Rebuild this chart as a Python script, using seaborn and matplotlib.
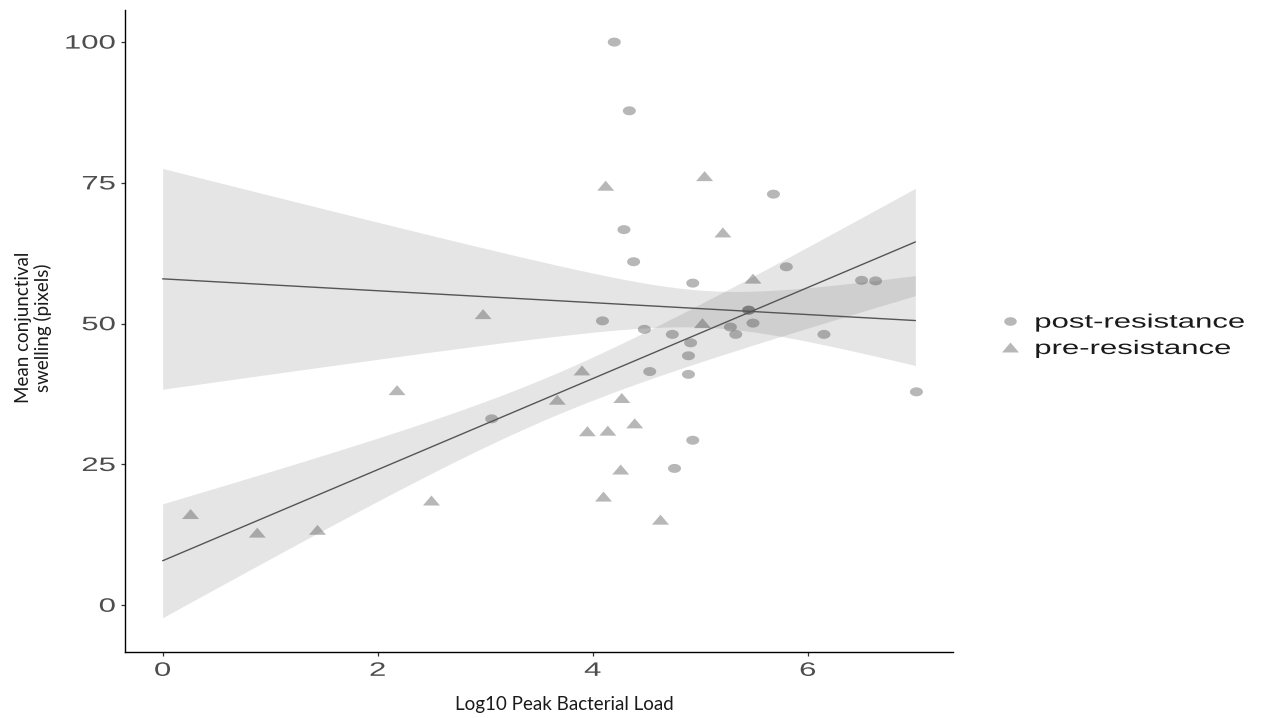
import math
import numpy as np
import pandas as pd
import matplotlib
matplotlib.use("Agg")
import matplotlib.pyplot as plt
import seaborn as sns
from matplotlib.path import Path
from matplotlib.lines import Line2D
from matplotlib.font_manager import FontProperties
from matplotlib.patheffects import AbstractPathEffect
from matplotlib.transforms import Affine2D

# Log10 peak bacterial load and mean conjunctival swelling per animal
post_load = [4.20, 4.34, 5.68, 4.29, 4.38, 5.80, 4.93, 5.45, 5.45, 4.09, 5.49, 5.28, 5.33,
             4.48, 4.74, 6.15, 4.91, 4.89, 4.53, 4.89, 3.06, 4.93, 4.76, 6.50, 6.63, 7.01]
post_swelling = [100.0, 87.8, 73.0, 66.7, 61.0, 60.1, 57.2, 52.4, 52.4, 50.5, 50.1, 49.4, 48.1,
                 49.0, 48.1, 48.1, 46.6, 44.3, 41.5, 41.0, 33.1, 29.3, 24.3, 57.7, 57.6, 37.9]
pre_load = [4.12, 5.04, 5.21, 5.49, 2.98, 5.02, 3.90, 2.18, 3.67, 4.27, 4.39, 3.95, 4.14,
            4.26, 2.50, 4.10, 4.63, 0.26, 0.88, 1.44]
pre_swelling = [74.5, 76.2, 66.2, 58.0, 51.7, 50.1, 41.7, 38.2, 36.5, 36.8, 32.3, 30.9, 31.0,
                24.1, 18.6, 19.3, 15.2, 16.2, 12.9, 13.4]
groups = ["post-resistance", "pre-resistance"]
x_ticks = [0, 2, 4, 6]
y_ticks = [0, 25, 50, 75, 100]

df = pd.DataFrame({
    "load": post_load + pre_load,
    "swelling": post_swelling + pre_swelling,
    "group": [groups[0]] * len(post_load) + [groups[1]] * len(pre_load),
})


class HorizontalStretch(AbstractPathEffect):
    """Draws text glyphs widened horizontally about a fixed anchor."""

    def __init__(self, factor, anchor="center"):
        super().__init__()
        self.factor = factor
        self.anchor = anchor

    def draw_path(self, renderer, gc, tpath, affine, rgbFace=None):
        ext = tpath.get_extents()
        ref = {"left": ext.x0, "center": 0.5 * (ext.x0 + ext.x1), "right": ext.x1}[self.anchor]
        widen = Affine2D().translate(-ref, 0).scale(self.factor, 1).translate(ref, 0)
        renderer.draw_path(gc, tpath, widen + affine, rgbFace)


def se_band(x, y, grid, n_se=1.0):
    """Least-squares fit with a band of +/- n_se standard errors of the mean response."""
    x = np.asarray(x, float)
    y = np.asarray(y, float)
    n = len(x)
    slope, intercept = np.polyfit(x, y, 1)
    resid = y - (intercept + slope * x)
    s = math.sqrt(np.sum(resid ** 2) / (n - 2))
    sxx = np.sum((x - x.mean()) ** 2)
    se = s * np.sqrt(1 / n + (grid - x.mean()) ** 2 / sxx)
    fit = intercept + slope * grid
    return fit - n_se * se, fit + n_se * se


# flattened marker shapes
theta = np.linspace(0, 2 * np.pi, 41)
ellipse = Path(np.column_stack([1.45 * np.cos(theta), np.sin(theta)]), closed=True)
triangle = Path([(-0.85, -0.5), (0.85, -0.5), (0.0, 0.5), (-0.85, -0.5)], closed=True)
shapes = {groups[0]: (ellipse, 88), groups[1]: (triangle, 150)}

sns.set_theme(style="ticks")
plt.rcParams["font.family"] = ["Liberation Sans", "DejaVu Sans"]

fig = plt.figure(figsize=(12.68, 7.18), dpi=100)
ax = fig.add_axes([125 / 1268, 66 / 718, 828 / 1268, 642 / 718])

pt_color = "#555555"
for g in groups:
    sub = df[df["group"] == g]
    marker, size = shapes[g]
    sns.scatterplot(data=sub, x="load", y="swelling", marker=marker, s=size,
                    color=pt_color, alpha=0.42, linewidth=0, edgecolor="none",
                    legend=False, ax=ax)

# fitted lines and standard-error bands span the full 0-7 load range
ax.set_xlim(0, 7)
grid = np.linspace(0, 7, 200)
for g in groups:
    sub = df[df["group"] == g]
    lo, hi = se_band(sub["load"], sub["swelling"], grid)
    ax.fill_between(grid, lo, hi, color=pt_color, alpha=0.15, linewidth=0)
    sns.regplot(data=sub, x="load", y="swelling", scatter=False, truncate=False,
                ci=None, color=pt_color, line_kws={"lw": 1.0}, ax=ax)

ax.set_xlim(-0.35, 7.35)
ax.set_ylim(-8.3, 105.7)
ax.set_xticks(x_ticks)
ax.set_yticks(y_ticks)
sns.despine(ax=ax)
for side in ("left", "bottom"):
    ax.spines[side].set_color("black")
    ax.spines[side].set_linewidth(1.0)
ax.tick_params(axis="both", length=2.8, width=0.9, color="#333333",
               labelsize=14, labelcolor="#4d4d4d")
ax.tick_params(axis="x", pad=5)
ax.tick_params(axis="y", pad=4)

ax.set_xlabel("Log10 Peak Bacterial Load", family="Lato", fontsize=13.5,
              color="#1a1a1a", va="center")
ax.xaxis.set_label_coords(0.531, -0.081)
ax.set_ylabel("Mean conjunctival\nswelling (pixels)", family="Lato", fontsize=13.5,
              color="#1a1a1a", va="center", linespacing=1.15)
ax.yaxis.set_label_coords(-0.1105, 0.505)

handles = [
    Line2D([], [], linestyle="none", marker=ellipse, markersize=9.0,
           color=pt_color, alpha=0.42, markeredgewidth=0),
    Line2D([], [], linestyle="none", marker=triangle, markersize=12.2,
           color=pt_color, alpha=0.42, markeredgewidth=0),
]
leg = fig.legend(handles, groups, loc="center left",
                 bbox_to_anchor=(1000 / 1268, 1 - 336 / 718), frameon=False,
                 handlelength=1.0, handletextpad=0.8, labelspacing=0.45,
                 borderpad=0, borderaxespad=0,
                 prop=FontProperties(family="Liberation Sans", size=14))
for t in leg.get_texts():
    t.set_color("#1a1a1a")

fig.canvas.draw()
for lbl in ax.get_xticklabels():
    lbl.set_path_effects([HorizontalStretch(1.6, "center")])
for lbl in ax.get_yticklabels():
    lbl.set_path_effects([HorizontalStretch(1.6, "right")])
for t in leg.get_texts():
    t.set_path_effects([HorizontalStretch(1.6, "left")])

fig.savefig("out.png", dpi=100, facecolor="white")
